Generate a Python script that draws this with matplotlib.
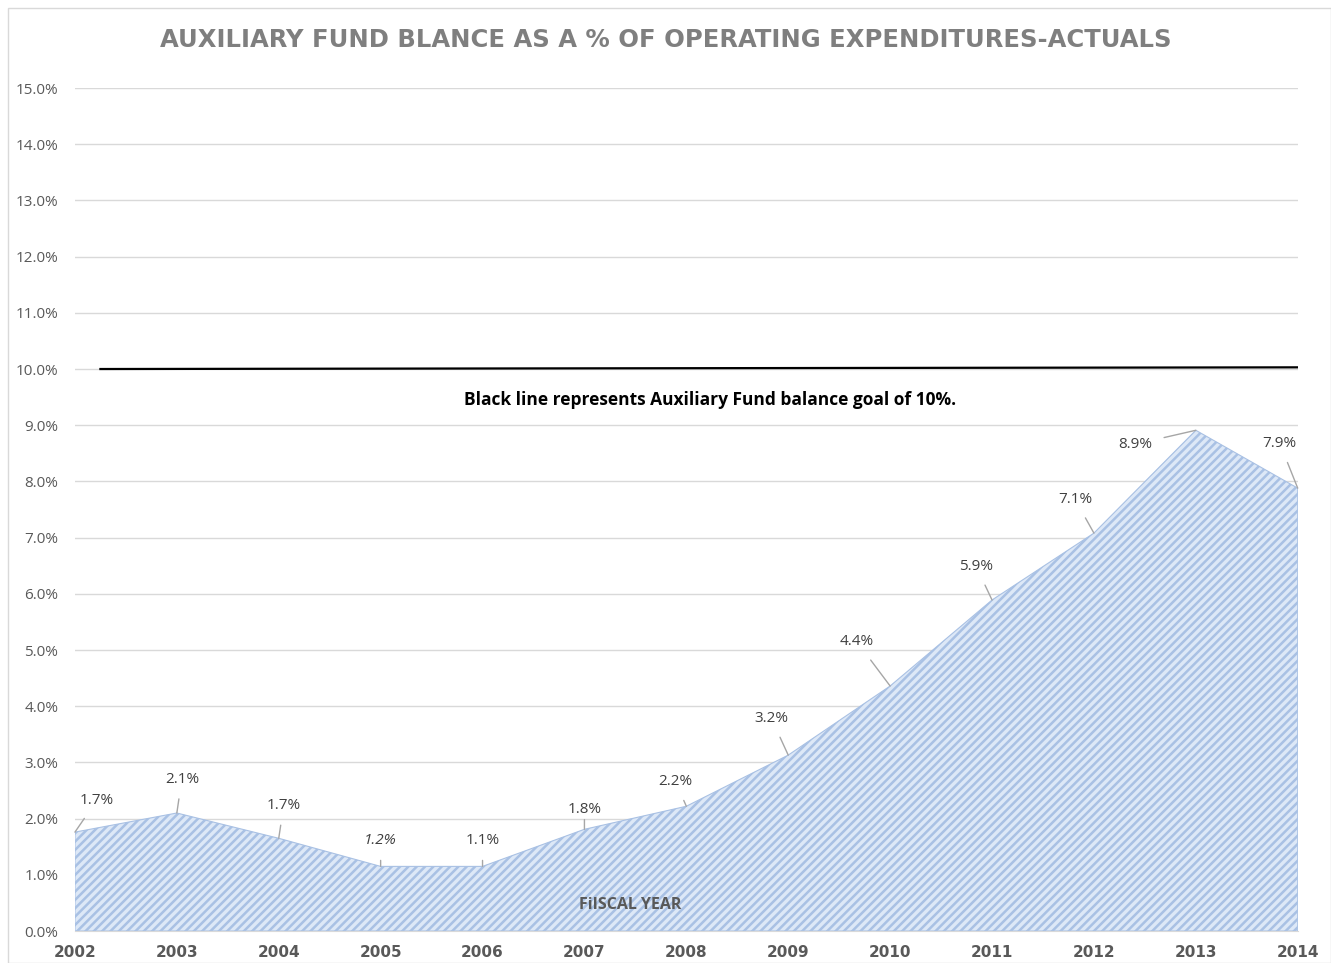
import matplotlib.pyplot as plt
from matplotlib.patches import Rectangle
import numpy as np

years = [2002, 2003, 2004, 2005, 2006, 2007, 2008, 2009, 2010, 2011, 2012, 2013, 2014]
balance = [1.76, 2.10, 1.65, 1.15, 1.15, 1.81, 2.22, 3.13, 4.36, 5.89, 7.08, 8.91, 7.88]
labels = ['1.7%', '2.1%', '1.7%', '1.2%', '1.1%', '1.8%', '2.2%', '3.2%', '4.4%', '5.9%', '7.1%', '8.9%', '7.9%']
# label offsets in pixels from the point
offsets = [(22, 32), (5, 34), (5, 33), (0, 26), (0, 26), (0, 20), (-11, 25),
           (-17, 37), (-33, 44), (-16, 34), (-19, 34), (-61, -14), (-18, 45)]
goal_x = [2002.25, 2014]
goal_y = [10.0, 10.03]

plt.rcParams['hatch.linewidth'] = 1.8
plt.rcParams['hatch.color'] = '#7ea3d8'

fig = plt.figure(figsize=(13.31, 9.63), dpi=100)
ax = fig.add_axes([0.0563, 0.0332, 0.9187, 0.8754])
fig.patches.append(Rectangle((0.006, 0.0), 0.994, 0.992, transform=fig.transFigure,
                             fill=False, edgecolor='#d9d9d9', lw=1))

ax.fill_between(years, balance, 0, facecolor='#dde8f7', edgecolor='#a9c1e4',
                hatch='////', lw=0.8, zorder=2)
ax.plot(goal_x, goal_y, color='black', lw=1.6, zorder=3)

for x, y, lab, (dx, dy) in zip(years, balance, labels, offsets):
    style = 'italic' if lab == '1.2%' and x == 2005 else 'normal'
    ax.annotate(lab, (x, y), xytext=(dx, dy), textcoords='offset pixels',
                ha='center', va='center', fontsize=11, color='#404040',
                fontstyle=style, family='Open Sans',
                arrowprops=dict(arrowstyle='-', color='#a6a6a6', lw=1, shrinkA=7, shrinkB=0),
                zorder=4)

ax.set_xlim(2002, 2014)
ax.set_ylim(0, 15)
ax.set_yticks(np.arange(0, 16, 1))
ax.set_yticklabels(['%.1f%%' % v for v in range(16)], color='#595959', fontsize=11,
                   family='Open Sans')
ax.set_xticks(years)
ax.set_xticklabels([str(y) for y in years], fontweight='bold', color='#595959',
                   fontsize=11, family='DejaVu Sans')
ax.tick_params(axis='both', length=0)
ax.tick_params(axis='x', pad=10)
ax.tick_params(axis='y', pad=12)
ax.grid(axis='y', color='#d9d9d9', lw=1, zorder=0)
ax.set_axisbelow(True)
for s in ['top', 'right', 'left']:
    ax.spines[s].set_visible(False)
ax.spines['bottom'].set_color('#d9d9d9')

ax.text(2008.23, 9.45, 'Black line represents Auxiliary Fund balance goal of 10%.',
        ha='center', va='center', fontsize=12.5, fontweight='bold', color='black',
        family='Open Sans')
ax.text(2007.45, 0.47, 'FiISCAL YEAR', ha='center', va='center', fontsize=11.5,
        fontweight='bold', color='#595959', family='Open Sans', zorder=5)

fig.text(0.5, 0.958, 'AUXILIARY FUND BLANCE AS A % OF OPERATING EXPENDITURES-ACTUALS',
         ha='center', va='center', fontsize=17.5, fontweight='bold', color='#7f7f7f',
         family='DejaVu Sans')

fig.savefig('out.png', dpi=100)
